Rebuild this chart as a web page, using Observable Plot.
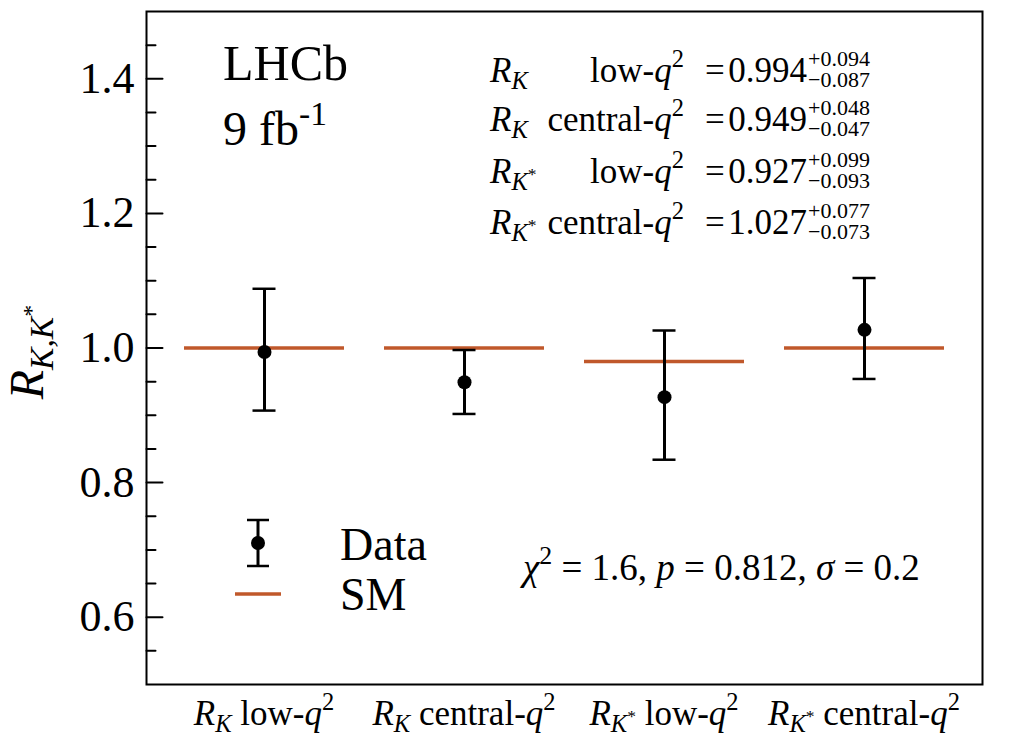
<!DOCTYPE html>
<html><head><meta charset="utf-8">
<script src="https://cdn.jsdelivr.net/npm/d3@7"></script>
<script src="https://cdn.jsdelivr.net/npm/@observablehq/plot@0.6"></script>
<style>body{margin:0;background:#fff;font-family:"Liberation Serif";} svg{display:block;} svg text{font-family:"Liberation Serif";}</style>
</head><body><div id="chart"></div>
<script>
// ---- data ----
const categories = ["RK low-q2", "RK central-q2", "RK* low-q2", "RK* central-q2"];
const values   = [0.994, 0.949, 0.927, 1.027];
const errPlus  = [0.094, 0.048, 0.099, 0.077];
const errMinus = [0.087, 0.047, 0.093, 0.073];
const smValues = [1.0, 1.0, 0.98, 1.0];
const yMajorTicks = [0.6, 0.8, 1.0, 1.2, 1.4];
const yMinorTicks = [0.55, 0.65, 0.7, 0.75, 0.85, 0.9, 0.95, 1.05, 1.1, 1.15, 1.25, 1.3, 1.35, 1.45];
const catSymbol = [["K"], ["K"], ["K", "*"], ["K", "*"]];
const catRange  = ["low-", "central-", "low-", "central-"];
const valueText = ["0.994", "0.949", "0.927", "1.027"];
const plusText  = ["+0.094", "+0.048", "+0.099", "+0.077"];
const minusText = ["\u22120.087", "\u22120.047", "\u22120.093", "\u22120.073"];
const statsText = {chi2: "1.6", p: "0.812", sigma: "0.2"};
const experiment = "LHCb";
const lumi = "9 fb";

const FONT = "Liberation Serif";
const SM_COLOR = "#c0582b";

const rows = categories.map((c, i) => ({
  i, cat: c, value: values[i],
  lo: values[i] - errMinus[i], hi: values[i] + errPlus[i], sm: smValues[i]
}));

const capHalf = 0.0575;
const tickShape = {draw(ctx, l) { ctx.moveTo(0, 0); ctx.lineTo(0, -l); }};

function draw() {
  const host = document.getElementById("chart");
  host.innerHTML = "";
  const plot = Plot.plot({
    width: 1014, height: 750,
    marginLeft: 146, marginRight: 32, marginTop: 11, marginBottom: 66,
    style: {background: "white", color: "black"},
    x: {domain: [-0.59, 3.59], axis: null},
    y: {domain: [0.5, 1.5]},
    marks: [
      Plot.ruleY(rows, {y: "sm", x1: d => d.i - 0.4, x2: d => d.i + 0.4, stroke: SM_COLOR, strokeWidth: 3.5}),
      Plot.ruleX(rows, {x: "i", y1: "lo", y2: "hi", stroke: "black", strokeWidth: 3}),
      Plot.ruleY(rows, {y: "hi", x1: d => d.i - capHalf, x2: d => d.i + capHalf, stroke: "black", strokeWidth: 2.5}),
      Plot.ruleY(rows, {y: "lo", x1: d => d.i - capHalf, x2: d => d.i + capHalf, stroke: "black", strokeWidth: 2.5}),
      Plot.dot(rows, {x: "i", y: "value", r: 7, fill: "black"}),
      Plot.vector(yMajorTicks, {y: d => d, frameAnchor: "left", rotate: 90, length: 16, anchor: "start", shape: tickShape, stroke: "black", strokeWidth: 2}),
      Plot.vector(yMinorTicks, {y: d => d, frameAnchor: "left", rotate: 90, length: 9, anchor: "start", shape: tickShape, stroke: "black", strokeWidth: 2}),
      Plot.axisY({ticks: yMajorTicks, tickSize: 0, tickPadding: 12, fontSize: 44, fontFamily: FONT, tickFormat: d => d.toFixed(1), label: null}),
      Plot.frame({stroke: "black", strokeWidth: 2})
    ]
  });
  plot.setAttribute("font-family", FONT);
  host.appendChild(plot);

  const svg = d3.select(plot);
  function rich(parts, {x = 0, y = 0, anchor = "start", size, transform = null}) {
    const t = svg.append("text").attr("x", x).attr("y", y)
      .attr("text-anchor", anchor).attr("font-size", size)
      .attr("font-family", FONT).attr("fill", "black");
    if (transform) t.attr("transform", transform);
    let shift = 0;
    for (const [str, st = ""] of parts) {
      let target = 0, fs = size;
      if (st.startsWith("sub")) { target = 0.2 * size; fs = 0.7 * size; }
      if (st.startsWith("sup")) { target = -0.42 * size; fs = 0.7 * size; }
      if (st.startsWith("ssup")) { target = -0.08 * size; fs = 0.5 * size; }
      const ts = t.append("tspan").attr("font-size", fs).attr("dy", target - shift).text(str);
      if (st.endsWith("i")) ts.attr("font-style", "italic");
      shift = target;
    }
    return t;
  }
  function symbolParts(i) {
    const p = [["R", "i"], [catSymbol[i][0], "subi"]];
    if (catSymbol[i][1]) p.push([catSymbol[i][1], "ssup"]);
    return p;
  }

  // x tick labels, positioned by the plot's x scale
  const xs = plot.scale("x");
  rows.forEach(d => {
    rich([...symbolParts(d.i), [" " + catRange[d.i]], ["q", "i"], ["2", "sup"]],
         {x: xs.apply(d.i), y: 725, anchor: "middle", size: 35});
  });

  // y axis label
  rich([["R", "i"], ["K,K", "subi"], ["*", "ssup"]],
       {size: 48, anchor: "middle", transform: "translate(43,352) rotate(-90)"});

  // LHCb label
  rich([[experiment]], {x: 223, y: 80, size: 50});
  rich([[lumi], ["-1", "sup"]], {x: 223, y: 145, size: 48});

  // results table
  const rowY = [82, 131, 183, 234];
  rows.forEach(d => {
    const y = rowY[d.i];
    rich(symbolParts(d.i), {x: 490, y, size: 35});
    rich([[catRange[d.i]], ["q", "i"], ["2", "sup"]], {x: 684, y, anchor: "end", size: 35});
    rich([["="]], {x: 705, y, size: 35});
    rich([[valueText[d.i]]], {x: 807, y, anchor: "end", size: 35});
    rich([[plusText[d.i]]], {x: 808, y: y - 16, size: 22});
    rich([[minusText[d.i]]], {x: 808, y: y + 5, size: 22});
  });

  // chi2 text
  rich([["\u03C7", "i"], ["2", "sup"], [" = " + statsText.chi2 + ", "], ["p", "i"], [" = " + statsText.p + ", "],
        ["\u03C3", "i"], [" = " + statsText.sigma]], {x: 523, y: 580, size: 37});

  // legend
  const lg = svg.append("g");
  lg.append("line").attr("x1", 258).attr("x2", 258).attr("y1", 520).attr("y2", 566).attr("stroke", "black").attr("stroke-width", 3);
  lg.append("line").attr("x1", 247).attr("x2", 269).attr("y1", 520).attr("y2", 520).attr("stroke", "black").attr("stroke-width", 2.5);
  lg.append("line").attr("x1", 247).attr("x2", 269).attr("y1", 566).attr("y2", 566).attr("stroke", "black").attr("stroke-width", 2.5);
  lg.append("circle").attr("cx", 258).attr("cy", 543).attr("r", 7).attr("fill", "black");
  lg.append("line").attr("x1", 235).attr("x2", 281).attr("y1", 594).attr("y2", 594).attr("stroke", SM_COLOR).attr("stroke-width", 3.5);
  rich([["Data"]], {x: 340, y: 560, size: 46});
  rich([["SM"]], {x: 340, y: 610, size: 46});
}

draw();
if (document.fonts && document.fonts.load) {
  Promise.all([
    document.fonts.load("44px 'Liberation Serif'"),
    document.fonts.load("italic 44px 'Liberation Serif'")
  ]).then(draw).catch(() => {});
}
</script>
</body></html>
